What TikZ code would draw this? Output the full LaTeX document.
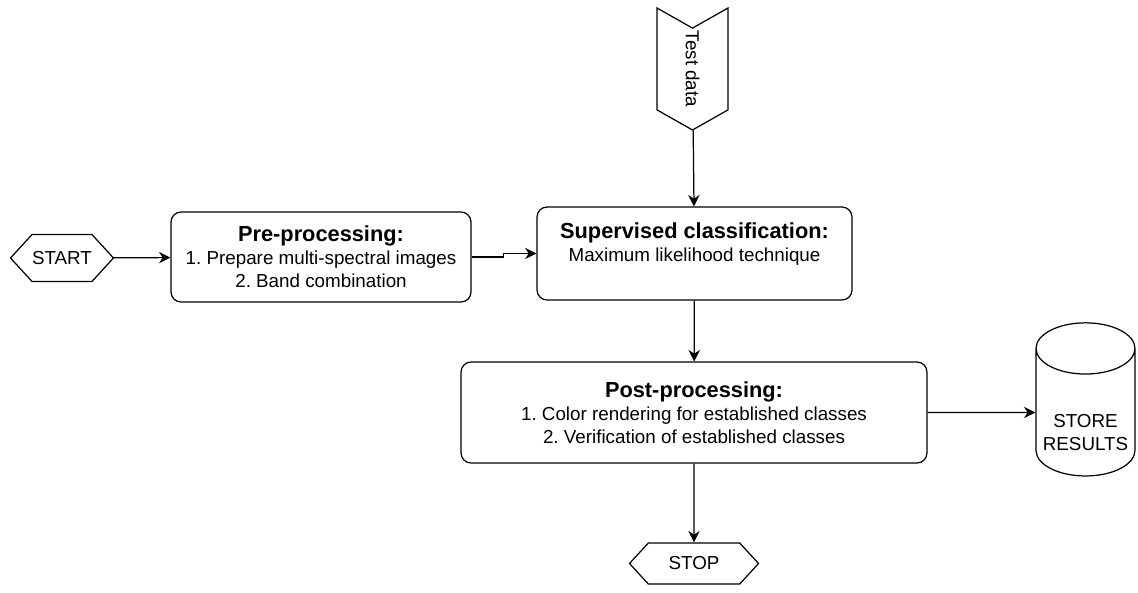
\documentclass[tikz,border=0pt]{standalone}
\usepackage{fontspec}
\setmainfont{Liberation Sans}
\usetikzlibrary{shapes.geometric, shapes.symbols, arrows.meta, positioning}
\newcommand{\boxtitle}[1]{{\fontsize{12.4}{14}\selectfont\bfseries #1}}
\frenchspacing

\begin{document}
\begin{tikzpicture}[
  x=0.02cm, y=-0.02cm,
  box/.style={draw, line width=0.7pt, rounded corners=0.2cm, align=center,
    fill=white, font=\fontsize{10.7}{13}\selectfont},
  term/.style={draw, line width=0.7pt, signal, signal to=west and east,
    signal pointer angle=95, font=\fontsize{10.7}{13}\selectfont, inner sep=0pt},
  datain/.style={draw, line width=0.7pt, signal, rotate=-90, signal to=east,
    signal from=west, signal pointer angle=121, inner sep=0pt,
    font=\fontsize{10.7}{13}\selectfont},
  store/.style={draw, line width=0.7pt, cylinder, shape border rotate=90,
    aspect=0.6, align=center, inner sep=0pt, font=\fontsize{10.7}{13}\selectfont},
  arr/.style={-{Stealth[length=6.5pt,width=6.5pt]}, line width=0.7pt}
]
  \useasboundingbox (0,0) rectangle (1138,592);

  \node[term, minimum width=2cm, minimum height=0.94cm] (start) at (62,258) {START};
  \node[box, minimum width=6cm, minimum height=1.8cm] (pre) at (321,257)
    {\boxtitle{Pre-processing:}\\1. Prepare multi-spectral images\\2. Band combination};
  \node[box, minimum width=6.3cm, minimum height=1.86cm] (sup) at (694.5,253.5)
    {\boxtitle{Supervised classification:}\\Maximum likelihood technique\\~};
  \node[datain, minimum width=2.44cm, minimum height=1.42cm] (test) at (692.5,69) {Test data};
  \node[box, minimum width=9.32cm, minimum height=2.02cm] (post) at (694,412.5)
    {\boxtitle{Post-processing:}\\1. Color rendering for established classes\\2. Verification of established classes};
  \node[store, minimum width=1.98cm, minimum height=2.5cm] (res) at (1085.5,412.5)
    {\rule{0pt}{30pt}STORE\\RESULTS};
  \node[term, minimum width=2.58cm, minimum height=0.82cm] (stop) at (694,563.5) {STOP};

  \draw[arr] (start) -- (pre);
  \draw[arr] (pre.east) -- ++(32,0) |- (sup.west);
  \draw[arr] (test) -- (sup);
  \draw[arr] (sup) -- (post);
  \draw[arr] (post) -- (res);
  \draw[arr] (post) -- (stop);
\end{tikzpicture}
\end{document}
